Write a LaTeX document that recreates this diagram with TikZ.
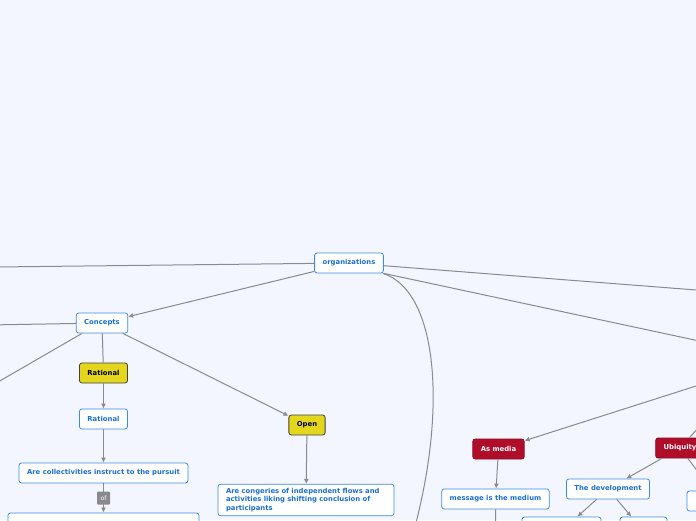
\documentclass[tikz,border=0pt]{standalone}
\usepackage{fontspec}
\setmainfont{DejaVu Sans}
\usepackage{xcolor}
\usetikzlibrary{arrows.meta}
\definecolor{canvas}{HTML}{F3F6FE}
\definecolor{topicline}{HTML}{3D8BE6}
\definecolor{topictext}{HTML}{1C6FD6}
\definecolor{markyellow}{HTML}{E3D61C}
\definecolor{markred}{HTML}{B00D2B}
\definecolor{linkgray}{HTML}{8A8A8E}

\begin{document}
\begin{tikzpicture}[
  x=1pt, y=-1pt,
  font=\fontsize{6.85}{8.4}\selectfont\bfseries,
  topic/.style={draw=topicline, fill=white, rounded corners=2.5pt, line width=0.8pt, text=topictext, minimum height=20pt, inner xsep=8pt, inner ysep=2pt},
  yellowtopic/.style={topic, draw=black!75, fill=markyellow, text=black},
  redtopic/.style={topic, draw=markred!80!black, fill=markred, text=white},
  tag/.style={fill=linkgray, text=white, rounded corners=1pt, minimum width=13pt, minimum height=13pt, inner sep=1pt, font=\fontsize{6}{6}\selectfont},
  link/.style={draw=linkgray, line width=1pt},
  arrow/.style={link, -{Latex[length=5pt, width=5pt]}}
]
  \fill[canvas] (0,0) rectangle (696,520);
  \useasboundingbox (0,0) rectangle (696,520);
  \clip (0,0) rectangle (696,520);

  \node[topic] (org) at (349,263) {organizations};
  \node[topic] (concepts) at (102,323) {Concepts};
  \node[yellowtopic] (ratmark) at (103.5,373) {Rational};
  \node[topic] (rational) at (103.5,419) {Rational};
  \node[topic] (pursuit) at (103.5,473) {Are collectivities instruct to the pursuit};
  \node[topic, minimum width=191pt, minimum height=36pt] (goals) at (103.5,531) {};
  \node[yellowtopic] (openmark) at (307,425) {Open};
  \node[topic, text width=160pt, align=left, inner ysep=4pt, execute at begin node={\hyphenpenalty=10000\relax}] (congeries) at (306,500) {Are congeries of independent flows and activities liking shifting conclusion of participants};
  \node[redtopic] (media) at (498.5,449) {As media};
  \node[topic] (message) at (495.5,499) {message is the medium};
  \node[redtopic] (ubiquity) at (680,448) {Ubiquity};
  \node[topic] (develop) at (608,489) {The development};
  \node[topic, minimum width=79pt, minimum height=28pt] (devleft) at (561.5,531) {};
  \node[topic, minimum width=47pt, minimum height=28pt] (devright) at (643.5,531) {};
  \node[topic, minimum width=66pt] (ubiright) at (720,501) {};

  \coordinate (farwest) at (-40,267.4);
  \coordinate (fareast) at (740,293.4);
  \coordinate (farsoutheast) at (740,349.7);
  \coordinate (farsouth) at (405,561);
  \coordinate (conwest) at (-40,325.5);
  \coordinate (consouthwest) at (-40,404);
  \coordinate (mediaroot) at (740,372);
  \coordinate (ubiroot) at (730,393);
  \coordinate (msgchild) at (496,546);

  \draw[link] (org) -- (farwest);
  \draw[link] (org) -- (fareast);
  \draw[link] (org.south east) -- (farsoutheast);
  \draw[link] ([xshift=-1pt]org.south east) .. controls (440,291) and (450,421) .. (farsouth);
  \draw[arrow] (org) -- (concepts);
  \draw[link] (concepts) -- (conwest);
  \draw[link] ([xshift=-20pt]concepts.south) -- (consouthwest);
  \draw[link] (concepts) -- (ratmark);
  \draw[arrow] (concepts) -- (openmark);
  \draw[arrow] (ratmark) -- (rational);
  \draw[arrow] (rational) -- (pursuit);
  \draw[arrow] (pursuit) -- node[tag] {of} (goals);
  \draw[arrow] (openmark) -- (congeries);
  \draw[arrow] (mediaroot) -- (media);
  \draw[arrow] (media) -- (message);
  \draw[link] (message) -- (msgchild);
  \draw[link] (ubiroot) -- (ubiquity);
  \draw[arrow] (ubiquity) -- (develop);
  \draw[arrow] (ubiquity) -- (ubiright);
  \draw[arrow] (develop) -- (devleft);
  \draw[arrow] (develop) -- (devright);
\end{tikzpicture}
\end{document}
